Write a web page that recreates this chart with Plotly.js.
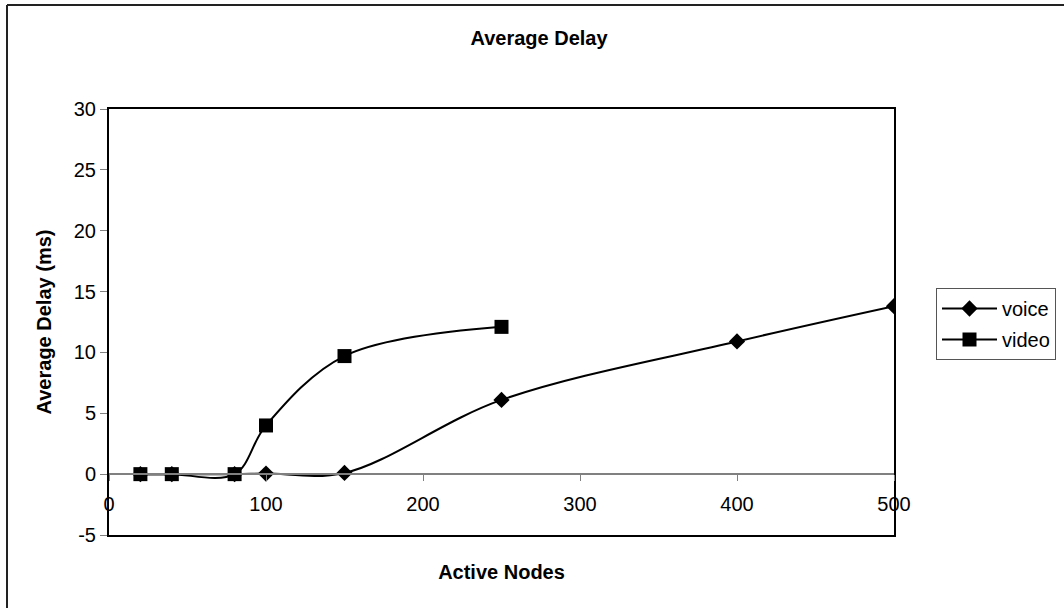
<!DOCTYPE html>
<html>
<head>
<meta charset="utf-8">
<script src="https://cdn.plot.ly/plotly-3.0.1.min.js"></script>
<style>html,body{margin:0;padding:0;background:#fff;}#chart{width:1064px;height:608px;}</style>
</head>
<body>
<div id="chart"></div>
<script>
// Data
const voiceNodes = [20, 40, 80, 100, 150, 250, 400, 500];
const voiceDelay = [0, 0, 0, 0.05, 0.1, 6.1, 10.9, 13.8];
const videoNodes = [20, 40, 80, 100, 150, 250];
const videoDelay = [0, 0, 0, 4.0, 9.7, 12.1];
const xTicks = [0, 100, 200, 300, 400, 500];
const yTicks = [-5, 0, 5, 10, 15, 20, 25, 30];

const FONT = 'Liberation Sans, Arial, sans-serif';

const traces = [
  {
    x: voiceNodes, y: voiceDelay, name: 'voice', type: 'scatter', mode: 'lines+markers',
    legendgroup: 'a',
    line: {color: '#000', width: 2, shape: 'spline', smoothing: 1},
    marker: {symbol: 'diamond', size: 12.5, color: '#000'},
    xaxis: 'x', yaxis: 'y'
  },
  {
    x: videoNodes, y: videoDelay, name: 'video', type: 'scatter', mode: 'lines+markers',
    legendgroup: 'b',
    line: {color: '#000', width: 2, shape: 'spline', smoothing: 1},
    marker: {symbol: 'square', size: 14, color: '#000'},
    xaxis: 'x', yaxis: 'y'
  }
];

const layout = {
  width: 1064, height: 608,
  paper_bgcolor: '#fff', plot_bgcolor: '#fff',
  margin: {l: 109, r: 170, t: 109, b: 73, autoexpand: false},
  font: {family: FONT, color: '#000', size: 20},
  title: {text: '<b>Average Delay</b>', x: (539 - 109) / 785, xref: 'paper', xanchor: 'center', y: 1 - 38/608, yanchor: 'middle', font: {size: 20, family: FONT}},
  showlegend: true,
  legend: {
    x: (936 - 109) / 785, xanchor: 'left', y: (535 - 288) / 426, yanchor: 'top',
    bordercolor: '#555', borderwidth: 1, bgcolor: '#fff',
    font: {size: 20, family: FONT}, traceorder: 'grouped', tracegroupgap: 2, itemwidth: 55
  },
  xaxis: {
    range: [0, 500], tickvals: xTicks, showticklabels: false, ticks: '',
    showgrid: false, zeroline: false, showline: true, mirror: true,
    linecolor: '#000', linewidth: 2,
    title: {text: '<b>Active Nodes</b>', font: {size: 20, family: FONT}, standoff: 29}
  },
  xaxis2: {
    range: [0, 500], tickvals: xTicks, ticktext: xTicks.map(String),
    overlaying: 'x', anchor: 'free', position: 5 / 35, side: 'bottom',
    showline: true, linecolor: '#808080', linewidth: 2,
    ticks: 'outside', ticklen: 6, tickcolor: '#808080', tickwidth: 1,
    ticklabelstandoff: 6,
    showgrid: false, zeroline: false,
    tickfont: {size: 20, family: FONT}
  },
  yaxis: {
    range: [-5, 30], tickvals: yTicks, ticktext: yTicks.map(String),
    showgrid: false, zeroline: false, showline: true, mirror: true,
    linecolor: '#000', linewidth: 2,
    ticks: 'outside', ticklen: 7, tickcolor: '#808080', tickwidth: 1,
    tickfont: {size: 20, family: FONT},
    title: {text: '<b>Average Delay (ms)</b>', font: {size: 20, family: FONT}, standoff: 17}
  },
  shapes: [
    {type: 'line', xref: 'paper', yref: 'paper',
     x0: (7 - 109) / 785, x1: 1.3, y0: 1 + (109 - 5) / 426, y1: 1 + (109 - 5) / 426,
     line: {color: '#222', width: 2}},
    {type: 'line', xref: 'paper', yref: 'paper',
     x0: (7 - 109) / 785, x1: (7 - 109) / 785, y0: 1 + (109 - 5) / 426, y1: -0.3,
     line: {color: '#222', width: 2}}
  ]
};

// empty helper trace so the zero-crossing x axis (xaxis2) is drawn
traces.push({x: [0], y: [null], xaxis: 'x2', yaxis: 'y', showlegend: false, hoverinfo: 'skip', mode: 'markers'});

Plotly.newPlot('chart', traces, layout, {displayModeBar: false, staticPlot: true});
</script>
</body>
</html>
